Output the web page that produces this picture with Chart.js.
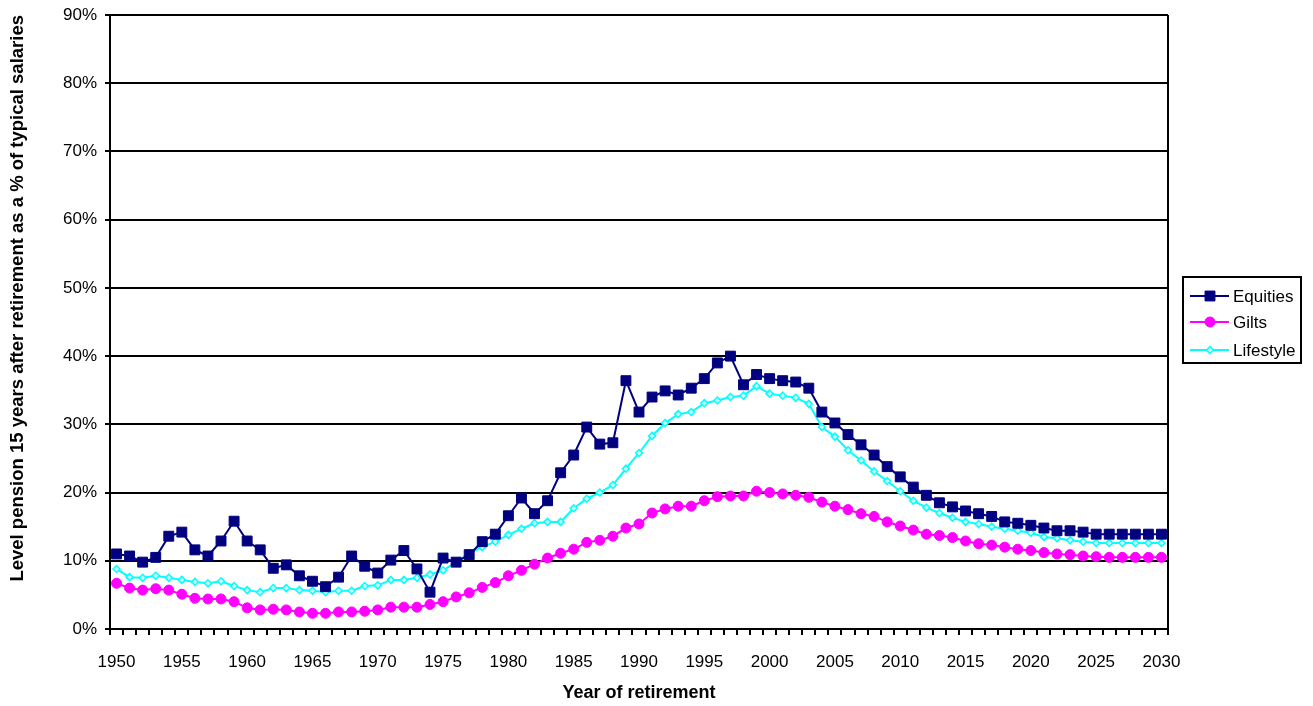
<!DOCTYPE html>
<html>
<head>
<meta charset="utf-8">
<script src="https://cdn.jsdelivr.net/npm/chart.js@4/dist/chart.umd.min.js"></script>
<style>
  body { margin: 0; background: #fff; }
  #wrap { width: 1313px; height: 706px; }
</style>
</head>
<body>
<div id="wrap"><canvas id="pensionChart" width="1313" height="706"></canvas></div>
<script>
// years 1950..2030
const years = [];
for (let y = 1950; y <= 2030; y++) years.push(String(y));

const equities = [
  11.0, 10.7, 9.8, 10.5, 13.6, 14.2, 11.6, 10.7, 12.9, 15.8,
  12.9, 11.6, 8.9, 9.4, 7.8, 7.0, 6.2, 7.6, 10.7, 9.2,
  8.2, 10.1, 11.5, 8.8, 5.4, 10.4, 9.8, 10.9, 12.8, 13.9,
  16.6, 19.2, 16.9, 18.8, 22.9, 25.5, 29.6, 27.1, 27.3, 36.4,
  31.8, 34.0, 34.9, 34.3, 35.3, 36.7, 39.0, 40.0, 35.8, 37.3,
  36.7, 36.4, 36.2, 35.3, 31.8, 30.2, 28.5, 27.0, 25.5, 23.8,
  22.3, 20.8, 19.6, 18.5, 17.9, 17.3, 16.9, 16.5, 15.7, 15.5,
  15.2, 14.8, 14.4, 14.4, 14.2, 13.9, 13.9, 13.9, 13.9, 13.9,
  13.9
];

const gilts = [
  6.7, 6.0, 5.7, 5.9, 5.7, 5.1, 4.5, 4.4, 4.4, 4.0,
  3.1, 2.8, 2.9, 2.8, 2.5, 2.3, 2.3, 2.5, 2.5, 2.6,
  2.8, 3.2, 3.2, 3.2, 3.6, 4.0, 4.7, 5.3, 6.1, 6.8,
  7.8, 8.6, 9.5, 10.4, 11.1, 11.7, 12.7, 13.0, 13.6, 14.8,
  15.4, 17.0, 17.6, 18.0, 18.0, 18.8, 19.4, 19.5, 19.5, 20.2,
  20.0, 19.8, 19.6, 19.3, 18.6, 18.0, 17.5, 16.9, 16.5, 15.7,
  15.1, 14.5, 13.9, 13.7, 13.4, 12.9, 12.5, 12.3, 12.0, 11.7,
  11.5, 11.2, 11.0, 10.9, 10.7, 10.6, 10.5, 10.5, 10.5, 10.5,
  10.5
];

const lifestyle = [
  8.8, 7.6, 7.5, 7.8, 7.5, 7.2, 6.9, 6.7, 7.0, 6.3,
  5.7, 5.4, 6.0, 6.0, 5.7, 5.6, 5.4, 5.6, 5.6, 6.3,
  6.4, 7.2, 7.2, 7.5, 8.0, 8.6, 9.8, 11.1, 12.0, 12.8,
  13.8, 14.7, 15.5, 15.7, 15.7, 17.7, 19.1, 20.0, 21.1, 23.5,
  25.8, 28.3, 30.2, 31.5, 31.8, 33.1, 33.5, 34.0, 34.2, 35.6,
  34.5, 34.2, 33.9, 33.0, 29.6, 28.2, 26.2, 24.7, 23.1, 21.7,
  20.2, 18.8, 17.8, 17.0, 16.3, 15.7, 15.4, 15.0, 14.7, 14.4,
  14.1, 13.5, 13.3, 13.0, 12.8, 12.6, 12.6, 12.6, 12.6, 12.6,
  12.6
];

const yTicks = [0, 10, 20, 30, 40, 50, 60, 70, 80, 90];

const FONT = "Arial, 'Liberation Sans', sans-serif";

// right edge of the plot + hand drawn legend (Excel style: line with marker)
const excelBits = {
  id: "excelBits",
  afterDraw(chart) {
    const ctx = chart.ctx;
    const a = chart.chartArea;
    ctx.save();
    ctx.strokeStyle = "#000";
    ctx.lineWidth = 2;
    ctx.beginPath();
    ctx.moveTo(a.right, a.top);
    ctx.lineTo(a.right, a.bottom);
    ctx.stroke();

    // legend
    const lx = 1183, ly = 277, lw = 118, lh = 86;
    ctx.lineWidth = 2;
    ctx.strokeRect(lx, ly, lw, lh);
    ctx.font = "17px " + FONT;
    ctx.textBaseline = "middle";
    const rows = [296, 322, 350];
    chart.data.datasets.forEach((ds, i) => {
      const cy = rows[i];
      ctx.strokeStyle = ds.borderColor;
      ctx.lineWidth = 2;
      ctx.beginPath();
      ctx.moveTo(lx + 7, cy);
      ctx.lineTo(lx + 46, cy);
      ctx.stroke();
      ctx.fillStyle = ds.pointBackgroundColor;
      ctx.lineWidth = ds.pointBorderWidth;
      Chart.helpers.drawPoint(ctx, {
        pointStyle: ds.pointStyle,
        radius: ds.pointRadius,
        borderWidth: ds.pointBorderWidth
      }, lx + 27, cy);
      ctx.fillStyle = "#000";
      ctx.fillText(ds.label, lx + 50, cy + 1);
    });
    ctx.restore();
  }
};

function makeChart() {
  const ctx = document.getElementById("pensionChart");

  new Chart(ctx, {
    type: "line",
    data: {
      labels: years,
      datasets: [
        {
          label: "Equities",
          data: equities,
          borderColor: "#000080",
          backgroundColor: "#000080",
          pointBackgroundColor: "#000080",
          borderWidth: 2,
          pointStyle: "rect",
          pointRadius: 7,
          pointBorderWidth: 1,
          tension: 0
        },
        {
          label: "Gilts",
          data: gilts,
          borderColor: "#ff00ff",
          backgroundColor: "#ff00ff",
          pointBackgroundColor: "#ff00ff",
          borderWidth: 2,
          pointStyle: "circle",
          pointRadius: 5,
          pointBorderWidth: 1,
          tension: 0
        },
        {
          label: "Lifestyle",
          data: lifestyle,
          borderColor: "#00ffff",
          backgroundColor: "#00ffff",
          pointBackgroundColor: "#ccffff",
          borderWidth: 2,
          pointStyle: "rectRot",
          pointRadius: 3.5,
          pointBorderWidth: 1.5,
          tension: 0
        }
      ]
    },
    options: {
      responsive: false,
      animation: false,
      layout: { padding: { top: 15, right: 145, left: 0, bottom: 0 } },
      plugins: {
        legend: { display: false },
        tooltip: { enabled: false }
      },
      scales: {
        x: {
          type: "category",
          offset: true,
          afterFit: (s) => { s.height = 77; },
          grid: {
            offset: true,
            drawOnChartArea: false,
            drawTicks: true,
            tickLength: 6,
            color: "#000",
            lineWidth: 2
          },
          border: { color: "#000", width: 2 },
          ticks: {
            autoSkip: false,
            maxRotation: 0,
            padding: 17,
            color: "#000",
            font: { family: FONT, size: 17 },
            callback: function (val, idx) {
              return idx % 5 === 0 ? this.getLabelForValue(val) : "";
            }
          },
          title: {
            display: true,
            text: "Year of retirement",
            color: "#000",
            font: { family: FONT, size: 18, weight: "bold" },
            padding: { top: 0, bottom: 2 }
          }
        },
        y: {
          min: 0,
          max: 90,
          afterFit: (s) => { s.width = 110; s.paddingTop = 0; s.paddingBottom = 0; },
          afterBuildTicks: (s) => { s.ticks = yTicks.map(v => ({ value: v })); },
          grid: {
            color: "#000",
            lineWidth: 2,
            tickLength: 5
          },
          border: { color: "#000", width: 2 },
          ticks: {
            padding: 8,
            color: "#000",
            font: { family: FONT, size: 17 },
            callback: (v) => v + "%"
          },
          title: {
            display: true,
            align: "end",
            text: "Level pension 15 years after retirement as a % of typical salaries",
            color: "#000",
            font: { family: FONT, size: 18.5, weight: "bold" },
            padding: { top: 7, bottom: 0 }
          }
        }
      }
    },
    plugins: [excelBits]
  });
}

document.addEventListener("DOMContentLoaded", makeChart);
</script>
</body>
</html>
